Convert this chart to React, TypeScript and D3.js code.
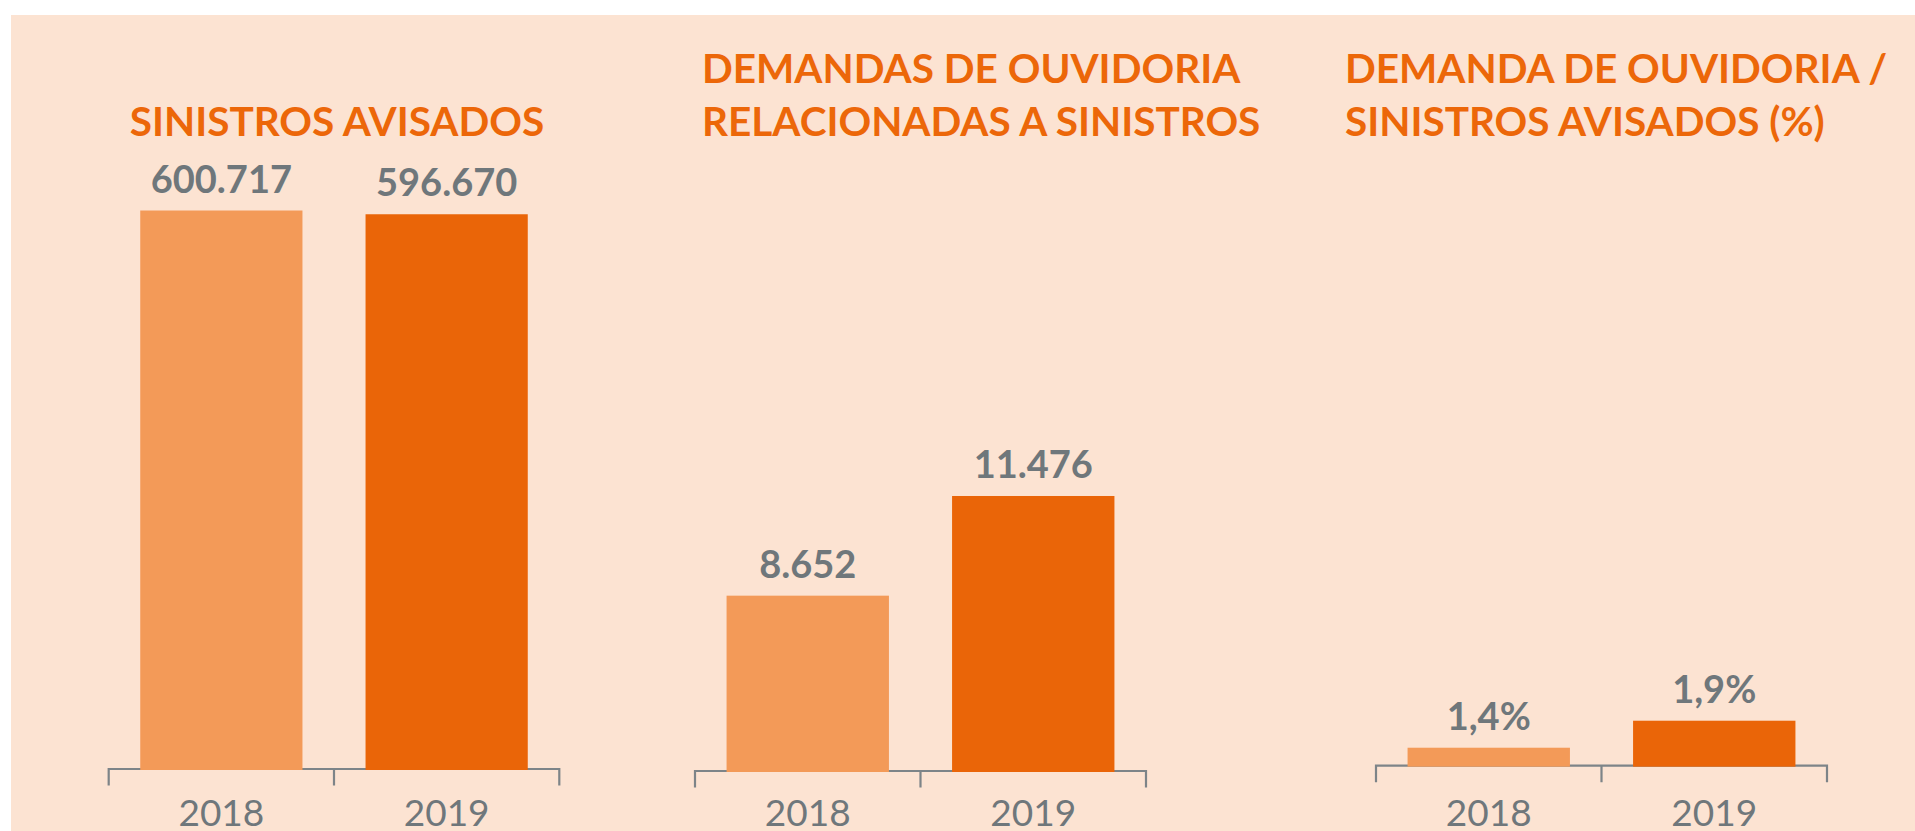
import * as d3 from 'd3';

const years = ['2018', '2019'];

const sinistrosAvisados = [600717, 596670];
const demandasOuvidoria = [8652, 11476];
const demandaPorSinistro = [1.4, 1.9];

const sinistrosLabels = ['600.717', '596.670'];
const demandasLabels = ['8.652', '11.476'];
const percentLabels = ['1,4%', '1,9%'];

const titleSinistros = ['SINISTROS AVISADOS'];
const titleDemandas = ['DEMANDAS DE OUVIDORIA', 'RELACIONADAS A SINISTROS'];
const titlePercent = ['DEMANDA DE OUVIDORIA /', 'SINISTROS AVISADOS (%)'];

// the infographic does not start every axis at zero
const domainSinistros = [0, 600717];
const domainDemandas = [3685, 19564];
const domainPercent = [1.067, 11.348];

const barColors = ['#f39a58', '#ea6508'];
const orange = '#ec6709';
const grey = '#6f777b';
const axisGrey = '#7d8488';
const font = 'Lato, "Open Sans", sans-serif';

const plotTop = 210.5;
const yearBaseline = 825.5;

interface PanelProps {
  title: string[];
  titleX: number;
  titleAnchor: 'start' | 'middle';
  values: number[];
  labels: string[];
  domain: number[];
  x0: number;
  x1: number;
  baseY: number;
}

function Panel(props: PanelProps): JSX.Element {
  const { title, titleX, titleAnchor, values, labels, domain, x0, x1, baseY } = props;

  const x = d3.scaleBand<string>().domain(years).range([x0, x1]).paddingInner(0.28).paddingOuter(0.14);
  const y = d3.scaleLinear().domain(domain).range([baseY, plotTop]);
  const step = x.step();
  const ticks = [x0, x0 + step, x1];
  const titleBaselines = title.length === 1 ? [136] : [82.7, 136];

  return (
    <g>
      {title.map((line, i) => (
        <text
          key={line}
          x={titleX}
          y={titleBaselines[i]}
          textAnchor={titleAnchor}
          fill={orange}
          fontFamily={font}
          fontWeight={700}
          fontSize={40.5}
        >
          {line}
        </text>
      ))}

      <path
        d={`M${x0},${baseY + 16.5}V${baseY}H${x1}V${baseY + 16.5}M${x0 + step},${baseY}V${baseY + 16.5}`}
        fill="none"
        stroke={axisGrey}
        strokeWidth={2.2}
      />

      {years.map((yr, i) => {
        const bx = x(yr) ?? 0;
        const top = y(values[i]);
        return (
          <g key={yr}>
            <rect x={bx} y={top} width={x.bandwidth()} height={baseY + 1 - top} fill={barColors[i]} />
            <text
              x={bx + x.bandwidth() / 2}
              y={top - 18}
              textAnchor="middle"
              fill={grey}
              fontFamily={font}
              fontWeight={700}
              fontSize={38}
            >
              {labels[i]}
            </text>
            <text
              x={bx + x.bandwidth() / 2}
              y={yearBaseline}
              textAnchor="middle"
              fill={grey}
              fontFamily={font}
              fontWeight={400}
              fontSize={37}
            >
              {yr}
            </text>
          </g>
        );
      })}
      {ticks.length === 0 ? null : null}
    </g>
  );
}

export default function App(): JSX.Element {
  return (
    <svg
      width={1915}
      height={831}
      viewBox="0 0 1915 831"
      style={{ position: 'absolute', left: 0, top: 0, display: 'block' }}
    >
      <rect x={0} y={0} width={1915} height={831} fill="#ffffff" />
      <rect x={11} y={15} width={1904} height={816} fill="#fce3d2" />

      <Panel
        title={titleSinistros}
        titleX={337}
        titleAnchor="middle"
        values={sinistrosAvisados}
        labels={sinistrosLabels}
        domain={domainSinistros}
        x0={108.7}
        x1={559.3}
        baseY={769}
      />
      <Panel
        title={titleDemandas}
        titleX={702}
        titleAnchor="start"
        values={demandasOuvidoria}
        labels={demandasLabels}
        domain={domainDemandas}
        x0={695}
        x1={1146}
        baseY={771}
      />
      <Panel
        title={titlePercent}
        titleX={1345}
        titleAnchor="start"
        values={demandaPorSinistro}
        labels={percentLabels}
        domain={domainPercent}
        x0={1376}
        x1={1827}
        baseY={765.7}
      />
    </svg>
  );
}
